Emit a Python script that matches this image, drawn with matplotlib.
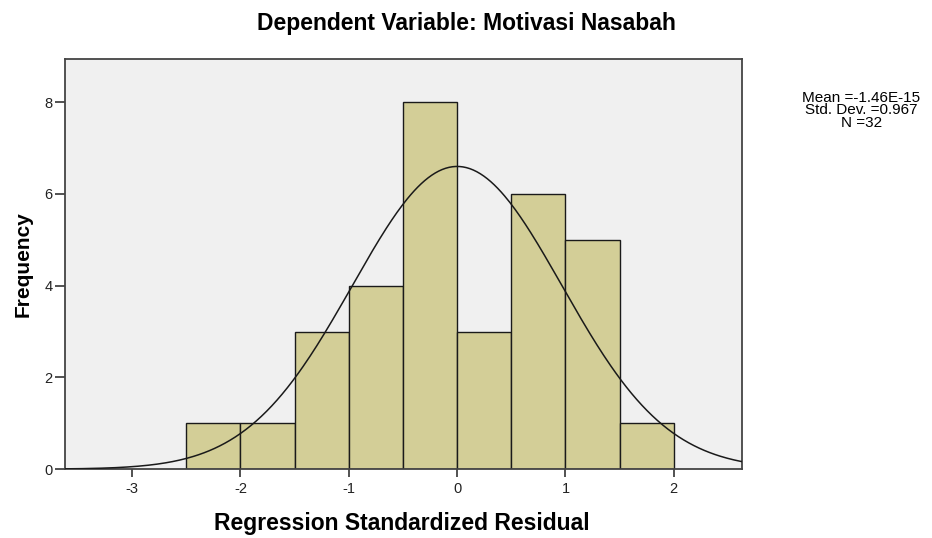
import numpy as np
import matplotlib
matplotlib.use("Agg")
import matplotlib.pyplot as plt

plt.rcParams['font.family'] = ['Liberation Sans', 'DejaVu Sans']

# histogram data (bins of width 0.5)
bin_edges = [-2.5, -2.0, -1.5, -1.0, -0.5, 0.0, 0.5, 1.0, 1.5, 2.0]
counts = [1, 1, 3, 4, 8, 3, 6, 5, 1]
mean = -1.46e-15
std = 0.967
n = 32

x_ticks = [-3, -2, -1, 0, 1, 2]
y_ticks = [0, 2, 4, 6, 8]

fig = plt.figure(figsize=(9.32, 5.38), dpi=100)
ax = fig.add_axes([0.0697, 0.128, 0.7265, 0.762])
ax.set_facecolor('#f0f0f0')

edges = np.array(bin_edges)
ax.bar(edges[:-1], counts, width=np.diff(edges), align='edge',
       color='#d3ce97', edgecolor='#1a1a1a', linewidth=1.0, zorder=2)

# normal curve scaled to counts
xs = np.linspace(-3.7, 2.7, 400)
bw = edges[1] - edges[0]
ys = n * bw * np.exp(-0.5 * ((xs - mean) / std) ** 2) / (std * np.sqrt(2 * np.pi))
ax.plot(xs, ys, color='#1a1a1a', linewidth=1.1, zorder=3)

ax.set_xlim(-3.62, 2.63)
ax.set_ylim(0, 8.94)
ax.set_xticks(x_ticks)
ax.set_xticklabels([str(t) for t in x_ticks])
ax.set_yticks(y_ticks)
ax.tick_params(direction='out', width=1.2, color='#333333',
               labelsize=10.5, labelcolor='#222222')
ax.tick_params(axis='x', length=6, pad=3)
ax.tick_params(axis='y', length=7, pad=2)
for s in ax.spines.values():
    s.set_color('#444444')
    s.set_linewidth(1.3)

fig.text(0.4315, 1 - 530 / 538, 'Regression Standardized Residual',
         ha='center', va='baseline', fontsize=16.5, fontweight='bold')
fig.text(0.025, 1 - 264.5 / 538, 'Frequency', rotation=90, ha='center',
         va='center', fontsize=15, fontweight='bold')

fig.text(0.501, 1 - 30 / 538, 'Dependent Variable: Motivasi Nasabah',
         ha='center', va='baseline', fontsize=16.5, fontweight='bold')

fig.text(0.924, 1 - 91 / 538, 'Mean =-1.46E-15\nStd. Dev. =0.967\nN =32',
         ha='center', va='top', fontsize=11, linespacing=0.85)

fig.savefig('out.png', dpi=100)
